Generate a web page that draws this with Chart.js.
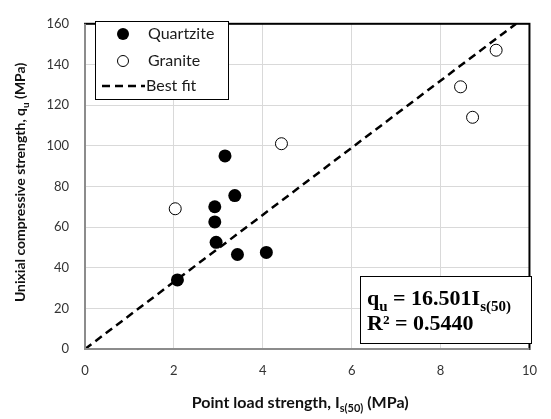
<!DOCTYPE html>
<html>
<head>
<meta charset="utf-8">
<title>Point load vs UCS</title>
<script src="https://cdn.jsdelivr.net/npm/chart.js@4/dist/chart.umd.min.js"></script>
<style>
    body { margin: 0; background: #ffffff; }
    #wrap { width: 551px; height: 419px; }
</style>
</head>
<body>
<div id="wrap"><canvas id="ucs-chart" width="551" height="419"></canvas></div>
<script>
// Point load strength Is(50) (MPa) against UCS qu (MPa)
const quartziteIs = [3.15, 3.37, 2.92, 2.92, 2.95, 3.43, 4.08, 2.08];
const quartziteQu = [95, 75.5, 70, 62.5, 52.5, 46.5, 47.5, 34];
const graniteIs = [2.03, 4.42, 9.25, 8.45, 8.72];
const graniteQu = [69, 101, 147, 129, 114];

// Best fit through the origin
const fitSlope = 16.501;
const fitR2 = '0.5440';
const fitIs = [0, 9.7];

const xTicks = [0, 2, 4, 6, 8, 10];
const yTicks = [0, 20, 40, 60, 80, 100, 120, 140, 160];

const toPoints = (xs, ys) => xs.map((x, i) => ({ x: x, y: ys[i] }));

const sansFont = 'Lato, "Open Sans", sans-serif';
const serifFont = '"Liberation Serif", "DejaVu Serif", serif';

// Draw a run of text pieces, some of them as subscripts
function drawRuns(ctx, runs, x, y, size, family, color) {
    let cx = x;
    runs.forEach(r => {
        const s = r.sub ? Math.round(size * 0.68) : size;
        ctx.font = '700 ' + s + 'px ' + family;
        ctx.fillStyle = color;
        ctx.fillText(r.text, cx, r.sub ? y + size * 0.25 : y);
        cx += ctx.measureText(r.text).width;
    });
    return cx - x;
}

function measureRuns(ctx, runs, size, family) {
    let w = 0;
    runs.forEach(r => {
        const s = r.sub ? Math.round(size * 0.68) : size;
        ctx.font = '700 ' + s + 'px ' + family;
        w += ctx.measureText(r.text).width;
    });
    return w;
}

// Frame, axis titles, legend and equation box
const decorations = {
    id: 'decorations',
    afterDraw(chart) {
        const ctx = chart.ctx;
        const a = chart.chartArea;
        ctx.save();

        // plot frame: black outline, grey axis lines on left and bottom
        ctx.lineWidth = 2;
        ctx.strokeStyle = '#000000';
        ctx.strokeRect(a.left, a.top, a.right - a.left, a.bottom - a.top);
        ctx.strokeStyle = '#8c8c8c';
        ctx.beginPath();
        ctx.moveTo(a.left, a.top);
        ctx.lineTo(a.left, a.bottom);
        ctx.lineTo(a.right, a.bottom);
        ctx.stroke();

        ctx.textBaseline = 'alphabetic';
        ctx.textAlign = 'left';

        // x axis title
        const xRuns = [
            { text: 'Point load strength, I' },
            { text: 's(50)', sub: true },
            { text: ' (MPa)' }
        ];
        const xw = measureRuns(ctx, xRuns, 16, sansFont);
        drawRuns(ctx, xRuns, (a.left + a.right) / 2 - xw / 2 - 7, 408, 16, sansFont, '#111111');

        // y axis title
        const yRuns = [
            { text: 'Unixial compressive strength, q' },
            { text: 'u', sub: true },
            { text: ' (MPa)' }
        ];
        const yw = measureRuns(ctx, yRuns, 14, sansFont);
        ctx.save();
        ctx.translate(25, (a.top + a.bottom) / 2 - 4);
        ctx.rotate(-Math.PI / 2);
        drawRuns(ctx, yRuns, -yw / 2, 0, 14, sansFont, '#111111');
        ctx.restore();

        // legend
        ctx.fillStyle = '#ffffff';
        ctx.fillRect(95, 21, 133, 78);
        ctx.lineWidth = 1;
        ctx.strokeStyle = '#000000';
        ctx.strokeRect(95.5, 21.5, 133, 78);

        ctx.beginPath();
        ctx.arc(123, 34, 6, 0, Math.PI * 2);
        ctx.fillStyle = '#000000';
        ctx.fill();

        ctx.beginPath();
        ctx.arc(123, 61, 5.5, 0, Math.PI * 2);
        ctx.fillStyle = '#ffffff';
        ctx.fill();
        ctx.lineWidth = 1;
        ctx.stroke();

        ctx.beginPath();
        ctx.setLineDash([8, 5]);
        ctx.lineWidth = 2.5;
        ctx.moveTo(102, 86);
        ctx.lineTo(145, 86);
        ctx.stroke();
        ctx.setLineDash([]);

        ctx.font = '16px ' + sansFont;
        ctx.fillStyle = '#1a1a1a';
        ctx.textBaseline = 'middle';
        ctx.fillText('Quartzite', 148, 34);
        ctx.fillText('Granite', 148, 61);
        ctx.fillText('Best fit', 146, 86);

        // equation box
        ctx.fillStyle = '#ffffff';
        ctx.fillRect(360, 276, 171, 67);
        ctx.lineWidth = 1;
        ctx.strokeStyle = '#000000';
        ctx.strokeRect(360.5, 276.5, 171, 67);

        ctx.textBaseline = 'alphabetic';
        drawRuns(ctx, [
            { text: 'q' },
            { text: 'u', sub: true },
            { text: ' = ' + fitSlope.toFixed(3) + 'I' },
            { text: 's(50)', sub: true }
        ], 367, 305, 22, serifFont, '#000000');
        drawRuns(ctx, [{ text: 'R² = ' + fitR2 }], 367, 330, 22, serifFont, '#000000');

        ctx.restore();
    }
};

new Chart(document.getElementById('ucs-chart'), {
    type: 'scatter',
    data: {
        datasets: [
            {
                label: 'Quartzite',
                data: toPoints(quartziteIs, quartziteQu),
                pointRadius: 6.5,
                pointHoverRadius: 6.5,
                backgroundColor: '#000000',
                borderColor: '#000000',
                borderWidth: 0,
                order: 1
            },
            {
                label: 'Granite',
                data: toPoints(graniteIs, graniteQu),
                pointRadius: 6,
                pointHoverRadius: 6,
                backgroundColor: '#ffffff',
                borderColor: '#000000',
                borderWidth: 1,
                order: 2
            },
            {
                label: 'Best fit',
                type: 'line',
                data: fitIs.map(x => ({ x: x, y: fitSlope * x })),
                borderColor: '#000000',
                borderWidth: 2.5,
                borderDash: [8, 5],
                pointRadius: 0,
                fill: false,
                order: 3
            }
        ]
    },
    options: {
        responsive: false,
        animation: false,
        events: [],
        layout: {
            padding: { left: 0, top: 11, right: 14, bottom: 0 }
        },
        plugins: {
            legend: { display: false },
            tooltip: { enabled: false }
        },
        scales: {
            x: {
                type: 'linear',
                min: xTicks[0],
                max: xTicks[xTicks.length - 1],
                afterBuildTicks: scale => { scale.ticks = xTicks.map(v => ({ value: v })); },
                afterFit: scale => { scale.height = 70; },
                border: { display: false },
                grid: { color: '#d9d9d9', lineWidth: 1, drawTicks: false },
                ticks: {
                    padding: 14,
                    color: '#333333',
                    font: { family: sansFont, size: 13 }
                }
            },
            y: {
                type: 'linear',
                min: yTicks[0],
                max: yTicks[yTicks.length - 1],
                afterBuildTicks: scale => { scale.ticks = yTicks.map(v => ({ value: v })); },
                afterFit: scale => { scale.width = 85; },
                border: { display: false },
                grid: { color: '#d9d9d9', lineWidth: 1, drawTicks: false },
                ticks: {
                    padding: 16,
                    color: '#333333',
                    font: { family: sansFont, size: 13 }
                }
            }
        }
    },
    plugins: [decorations]
});
</script>
</body>
</html>
